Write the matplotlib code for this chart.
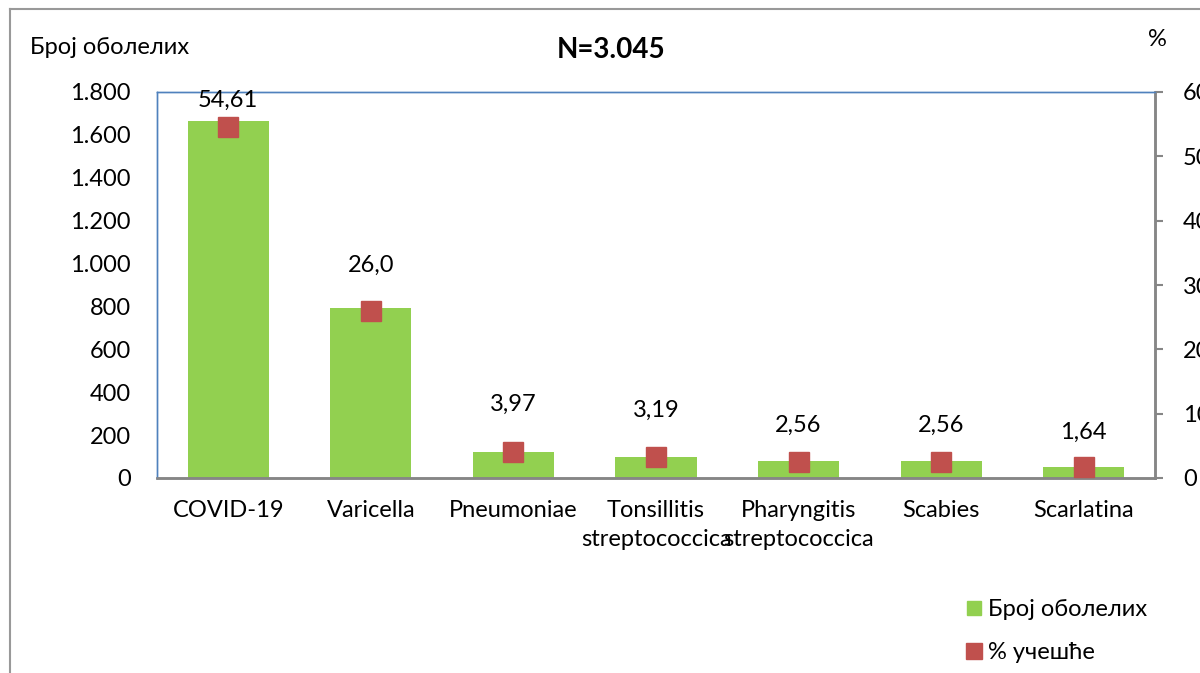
import matplotlib.pyplot as plt
import numpy as np
from matplotlib.lines import Line2D

plt.rcParams['font.family'] = ['Lato', 'DejaVu Sans']

categories = ['COVID-19', 'Varicella', 'Pneumoniae', 'Tonsillitis\nstreptococcica',
              'Pharyngitis\nstreptococcica', 'Scabies', 'Scarlatina']
cases = [1663, 792, 121, 97, 78, 78, 50]
percent = [54.61, 26.0, 3.97, 3.19, 2.56, 2.56, 1.64]
percent_labels = ['54,61', '26,0', '3,97', '3,19', '2,56', '2,56', '1,64']
left_ticks = [0, 200, 400, 600, 800, 1000, 1200, 1400, 1600, 1800]
left_ticklabels = ['0', '200', '400', '600', '800', '1.000', '1.200', '1.400', '1.600', '1.800']
right_ticks = [0, 10, 20, 30, 40, 50, 60]

# vertical offsets (points) of the data labels above the markers
label_offsets = [19, 33, 35, 34, 26, 26, 25]

GREEN = '#92D050'
RED = '#C0504D'
BLUE = '#4F81BD'
GRAY = '#868686'
FS = 17

fig = plt.figure(figsize=(12, 6.73), dpi=100)
ax = fig.add_axes([157 / 1200, 1 - 478 / 673, 998 / 1200, 386 / 673])
ax2 = ax.twinx()

x = np.arange(len(categories))
ax.bar(x, cases, width=0.57, color=GREEN, zorder=2)
ax.set_xlim(-0.5, len(categories) - 0.5)
ax.set_ylim(0, 1800)
ax.set_yticks(left_ticks)
ax.set_yticklabels(left_ticklabels, fontsize=FS)
ax.tick_params(axis='y', length=0, pad=19)
ax.set_xticks(x)
ax.set_xticklabels(categories, fontsize=FS, linespacing=1.45)
ax.tick_params(axis='x', length=0, pad=16)

ax2.plot(x, percent, 's', color=RED, markersize=14.5, linestyle='none', zorder=3)
ax2.set_ylim(0, 60)
ax2.set_yticks(right_ticks)
ax2.set_yticklabels([str(t) for t in right_ticks], fontsize=FS)
ax2.tick_params(axis='y', direction='out', length=6, width=1.5, color=GRAY, pad=14)
for xi, p, lab, off in zip(x, percent, percent_labels, label_offsets):
    ax2.annotate(lab, (xi, p), xytext=(0, off), textcoords='offset points',
                 ha='center', va='center', fontsize=FS)

for a in (ax, ax2):
    a.spines['left'].set_color(BLUE)
    a.spines['left'].set_linewidth(1.0)
    a.spines['top'].set_color(BLUE)
    a.spines['top'].set_linewidth(1.0)
    a.spines['right'].set_color(GRAY)
    a.spines['right'].set_linewidth(1.8)
    a.spines['bottom'].set_color(GRAY)
    a.spines['bottom'].set_linewidth(1.8)

fig.text(30 / 1200, 1 - 48 / 673, 'Број оболелих', fontsize=FS, ha='left', va='center')
fig.text(611 / 1200, 1 - 50 / 673, 'N=3.045', fontsize=20, fontweight='bold',
         ha='center', va='center')
fig.text(1157 / 1200, 1 - 40 / 673, '%', fontsize=FS, ha='center', va='center')

# outer chart frame
fig.add_artist(Line2D([10 / 1200, 10 / 1200], [0, 1 - 9 / 673], transform=fig.transFigure,
                      color='#999999', linewidth=1.5))
fig.add_artist(Line2D([10 / 1200, 1], [1 - 9 / 673, 1 - 9 / 673], transform=fig.transFigure,
                      color='#999999', linewidth=1.5))

handles = [Line2D([], [], marker='s', color=GREEN, linestyle='none', markersize=10),
           Line2D([], [], marker='s', color=RED, linestyle='none', markersize=12)]
fig.legend(handles, ['Број оболелих', '% учешће'], loc='upper left',
           bbox_to_anchor=(955 / 1200, 1 - 587 / 673), frameon=False, fontsize=FS,
           handlelength=0.6, handletextpad=0.3, labelspacing=0.95, borderpad=0)

fig.savefig('out.png', dpi=100)
